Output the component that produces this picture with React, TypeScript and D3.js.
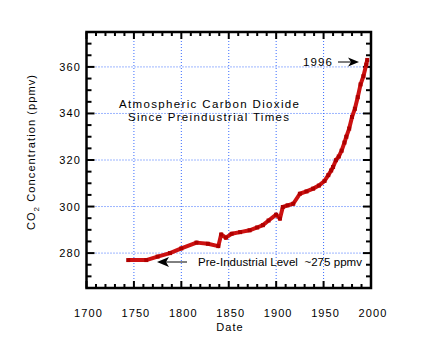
import React from "react";
import * as d3 from "d3";

const years = [1744, 1763, 1775, 1788, 1800, 1816, 1828, 1839, 1842, 1847, 1853, 1862, 1872, 1880, 1886, 1892, 1900, 1904, 1907, 1912, 1918, 1925, 1932, 1939, 1945, 1951, 1955, 1958, 1960, 1963, 1966, 1969, 1972, 1974, 1977, 1980, 1983, 1986, 1989, 1992, 1995, 1996];
const co2 = [277, 277, 278.5, 280, 282, 284.5, 284, 283, 288, 286.6, 288.3, 289, 289.8, 291, 292, 294, 296.5, 294.8, 299.8, 300.5, 301.2, 305.5, 306.5, 307.7, 309, 311, 313.5, 315.5, 317, 319.9, 321.5, 324, 327.5, 330, 333.5, 338.5, 342, 347, 352.5, 356, 361, 363];
const xTickLabels = [1700, 1750, 1800, 1850, 1900, 1950, 2000];
const yTickLabels = [280, 300, 320, 340, 360];
const xGrid = [1750, 1800, 1850, 1900, 1950];

const FONT = "'Liberation Sans', Arial, Helvetica, sans-serif";

export default function App() {
  const L = 86.5, R = 371, T = 32, B = 288;
  const x = d3.scaleLinear().domain([1700, 2000]).range([L, R]);
  const y = d3.scaleLinear().domain([265, 375]).range([B, T]);
  const pts = years.map((yr, i) => [x(yr), y(co2[i])] as [number, number]);
  const line = d3.line()(pts) || "";

  const xMinor = d3.range(1700, 2001, 10);
  const yMinor = d3.range(265, 376, 5);

  const textStyle: React.CSSProperties = { fontFamily: FONT, fontSize: 11, letterSpacing: "1.1px" };
  const annStyle: React.CSSProperties = { fontFamily: FONT, fontSize: 11.5 };

  return (
    <svg width={426} height={357} style={{ position: "absolute", left: 0, top: 0, background: "#fff" }}>
      {xGrid.map((v) => (
        <line key={"gx" + v} x1={x(v)} x2={x(v)} y1={T} y2={B} stroke="#3a6cff" strokeWidth={1} strokeDasharray="1,2" />
      ))}
      {yTickLabels.map((v) => (
        <line key={"gy" + v} x1={L} x2={R} y1={y(v)} y2={y(v)} stroke="#3a6cff" strokeWidth={1} strokeDasharray="1,2" />
      ))}
      {xMinor.map((v) => {
        const major = v % 50 === 0;
        const len = major ? 7 : 4;
        return (
          <g key={"tx" + v}>
            <line x1={x(v)} x2={x(v)} y1={B} y2={B - len} stroke="#000" strokeWidth={2} />
            <line x1={x(v)} x2={x(v)} y1={T} y2={T + len} stroke="#000" strokeWidth={2} />
          </g>
        );
      })}
      {yMinor.map((v) => {
        const major = v % 20 === 0;
        const len = major ? 8 : 5;
        return (
          <g key={"ty" + v}>
            <line x1={L} x2={L + len} y1={y(v)} y2={y(v)} stroke="#000" strokeWidth={2} />
            <line x1={R} x2={R - len} y1={y(v)} y2={y(v)} stroke="#000" strokeWidth={2} />
          </g>
        );
      })}
      <rect x={L} y={T} width={R - L} height={B - T} fill="none" stroke="#000" strokeWidth={2.5} />
      <path d={line} fill="none" stroke="#cc1111" strokeWidth={4} strokeLinejoin="round" />
      {pts.map(([px, py], i) => (
        <rect key={"m" + i} x={px - 2} y={py - 2} width={4} height={4} fill="#b00000" />
      ))}
      {xTickLabels.map((v) => (
        <text key={"lx" + v} x={x(v) + 2} y={317} textAnchor="middle" style={textStyle}>{v}</text>
      ))}
      {yTickLabels.map((v) => (
        <text key={"ly" + v} x={81} y={y(v) + 4} textAnchor="end" style={textStyle}>{v}</text>
      ))}
      <text x={230} y={331} textAnchor="middle" style={textStyle}>Date</text>
      <text transform={`translate(35,152) rotate(-90)`} textAnchor="middle" style={textStyle}>
        CO<tspan fontSize={8} dy={4}>2</tspan><tspan dy={-4}> Concentration (ppmv)</tspan>
      </text>
      <text x={119} y={108} textLength={180} lengthAdjust="spacing" style={annStyle}>Atmospheric Carbon Dioxide</text>
      <text x={128} y={121} textLength={161} lengthAdjust="spacing" style={annStyle}>Since Preindustrial Times</text>
      <text x={303} y={66} textLength={29} lengthAdjust="spacing" style={annStyle}>1996</text>
      <line x1={338} x2={352} y1={62} y2={62} stroke="#000" strokeWidth={1} />
      <path d="M359,62 L348,57.5 L351,62 L348,66.5 Z" fill="#000" />
      <text x={198} y={266} textLength={164} lengthAdjust="spacing" style={annStyle} xmlSpace="preserve">Pre-Industrial Level  ~275 ppmv</text>
      <line x1={187} x2={165} y1={262} y2={262} stroke="#000" strokeWidth={1} />
      <path d="M157,262 L169,257 L166,262 L169,267 Z" fill="#000" />
    </svg>
  );
}
